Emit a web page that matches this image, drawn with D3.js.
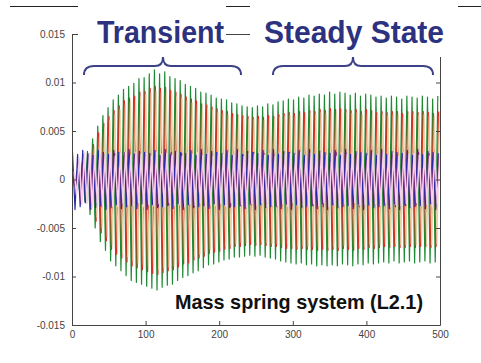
<!DOCTYPE html>
<meta charset="utf-8">
<style>
  body { margin: 0; background: #fff; }
  .tick text { font: 10px "Liberation Sans", Arial, sans-serif; fill: #444; }
  .axis path, .axis line { stroke: #444; }
  .series { fill: none; stroke-width: 1.2; stroke-linejoin: round; }
  .series.pink { stroke-width: 1.5; }
</style>
<body>
<script src="https://d3js.org/d3.v7.min.js"></script>
<script>
// values in units of 1e-3, successive extrema, one every dt time units
var dt = 3.5;

var green = [
  0.3,-0.6,0.9,-1.3,1.8,-2.3,2.9,-3.6,4.2,-5.0,
  5.5,-6.4,6.6,-7.3,7.4,-8.4,8.2,-8.9,8.7,-9.4,
  9.3,-9.9,9.6,-10.4,9.9,-10.6,10.4,-10.8,10.5,-11.0,
  10.9,-11.2,11.3,-11.4,10.9,-11.1,11.1,-10.9,10.6,-10.8,
  10.4,-10.4,10.2,-10.1,9.8,-9.9,9.6,-9.6,9.4,-9.4,
  9.0,-9.1,8.9,-8.8,8.7,-8.7,8.4,-8.5,8.3,-8.3,
  8.2,-8.2,7.9,-8.0,7.8,-8.0,7.6,-7.9,7.5,-7.8,
  7.4,-7.9,7.6,-7.8,7.5,-8.0,7.8,-8.1,7.7,-8.2,
  8.0,-8.4,8.1,-8.5,8.3,-8.6,8.2,-8.7,8.5,-8.6,
  8.4,-8.8,8.7,-8.7,8.6,-8.9,8.8,-8.8,8.7,-8.9,
  9.0,-8.8,8.8,-8.9,9.0,-8.7,8.9,-8.8,8.7,-8.9,
  8.9,-8.7,8.6,-8.8,8.8,-8.6,8.7,-8.7,8.5,-8.6,
  8.6,-8.5,8.4,-8.6,8.6,-8.4,8.5,-8.6,8.3,-8.5,
  8.6,-8.4,8.5,-8.6,8.4,-8.5,8.6,-8.4,8.5,-8.6,
  8.3,-8.5,8.6
];

var red = [
  0.2,-0.5,0.8,-1.1,1.5,-2.0,2.5,-3.1,3.6,-4.3,
  4.8,-5.5,5.8,-6.3,6.5,-7.2,7.1,-7.7,7.6,-8.1,
  8.1,-8.5,8.4,-8.9,8.6,-9.1,9.0,-9.3,9.1,-9.5,
  9.4,-9.7,9.6,-9.8,9.4,-9.6,9.5,-9.4,9.2,-9.3,
  9.0,-9.0,8.8,-8.7,8.5,-8.6,8.3,-8.3,8.1,-8.1,
  7.8,-7.9,7.7,-7.6,7.5,-7.5,7.3,-7.4,7.1,-7.2,
  7.0,-7.1,6.8,-6.9,6.7,-6.9,6.6,-6.8,6.5,-6.7,
  6.4,-6.8,6.5,-6.7,6.4,-6.8,6.6,-6.9,6.5,-6.9,
  6.7,-7.0,6.8,-7.1,6.9,-7.1,6.8,-7.2,7.0,-7.1,
  6.9,-7.2,7.1,-7.2,7.0,-7.3,7.2,-7.2,7.1,-7.3,
  7.3,-7.2,7.2,-7.3,7.3,-7.1,7.2,-7.2,7.1,-7.3,
  7.2,-7.1,7.0,-7.2,7.2,-7.0,7.1,-7.1,6.9,-7.0,
  7.0,-6.9,6.9,-7.0,7.0,-6.9,7.0,-7.0,6.8,-7.0,
  7.0,-6.9,7.0,-7.0,6.9,-6.9,7.0,-6.9,6.9,-7.0,
  6.8,-6.9,7.0
];

var yellow = [
  0.1,-0.4,0.7,-1.0,1.4,-1.8,2.3,-2.8,3.3,-3.9,
  4.4,-5.0,5.4,-5.9,6.1,-6.7,6.7,-7.2,7.2,-7.6,
  7.7,-8.0,8.0,-8.4,8.2,-8.6,8.5,-8.8,8.7,-9.0,
  8.9,-9.2,9.1,-9.3,9.0,-9.1,9.0,-9.0,8.8,-8.9,
  8.6,-8.6,8.4,-8.3,8.1,-8.2,7.9,-7.9,7.7,-7.7,
  7.5,-7.5,7.3,-7.2,7.1,-7.1,6.9,-7.0,6.8,-6.8,
  6.7,-6.7,6.5,-6.6,6.4,-6.5,6.3,-6.5,6.2,-6.4,
  6.2,-6.5,6.2,-6.4,6.1,-6.5,6.3,-6.6,6.2,-6.6,
  6.4,-6.7,6.5,-6.8,6.6,-6.8,6.5,-6.9,6.7,-6.8,
  6.6,-6.9,6.8,-6.9,6.7,-7.0,6.9,-6.9,6.8,-7.0,
  7.0,-6.9,6.9,-7.0,7.0,-6.8,6.9,-6.9,6.8,-7.0,
  6.9,-6.8,6.7,-6.9,6.9,-6.7,6.8,-6.8,6.6,-6.7,
  6.7,-6.6,6.6,-6.7,6.7,-6.6,6.7,-6.7,6.5,-6.7,
  6.7,-6.6,6.7,-6.7,6.6,-6.6,6.7,-6.6,6.6,-6.7,
  6.5,-6.6,6.7
];

var blue = [
  2.9,-3.1,2.6,-2.8,3.0,-2.4,2.7,-3.0,2.5,-2.9,
  3.0,-2.7,2.8,-3.1,2.6,-2.9,3.0,-2.6,2.8,-3.0,
  2.5,-2.8,3.1,-2.7,2.6,-3.0,2.9,-2.5,2.8,-3.1,
  2.7,-2.6,3.0,-2.9,2.5,-2.8,3.1,-2.7,2.6,-3.0,
  2.9,-2.5,2.8,-3.1,2.7,-2.6,3.0,-2.9,2.5,-2.8,
  3.1,-2.7,2.6,-3.0,2.9,-2.5,2.8,-3.1,2.7,-2.6,
  3.0,-2.9,2.5,-2.8,3.1,-2.7,2.6,-3.0,2.9,-2.5,
  2.8,-3.1,2.7,-2.6,3.0,-2.9,2.5,-2.8,3.1,-2.7,
  2.6,-3.0,2.9,-2.5,2.8,-3.1,2.7,-2.6,3.0,-2.9,
  2.5,-2.8,3.1,-2.7,2.6,-3.0,2.9,-2.5,2.8,-3.1,
  2.7,-2.6,3.0,-2.9,2.5,-2.8,3.1,-2.7,2.6,-3.0,
  2.9,-2.5,2.8,-3.1,2.7,-2.6,3.0,-2.9,2.5,-2.8,
  3.1,-2.7,2.6,-3.0,2.9,-2.5,2.8,-3.1,2.7,-2.6,
  3.0,-2.9,2.5,-2.8,3.1,-2.7,2.6,-3.0,2.9,-2.5,
  2.8,-3.1,2.7
];

var purple = [
  0.5,-1.2,1.8,-2.4,2.6,-2.2,1.9,-2.7,2.4,-1.6,
  2.1,-2.8,2.5,-1.5,2.2,-2.6,2.7,-1.8,1.6,-2.5,
  2.8,-2.0,1.5,-2.3,2.7,-2.4,1.7,-1.9,2.6,-2.7,
  2.0,-1.4,2.4,-2.8,2.3,-1.6,1.8,-2.6,2.8,-2.1,
  1.5,-2.2,2.7,-2.5,1.8,-1.7,2.5,-2.8,2.2,-1.5,
  2.0,-2.7,2.6,-1.9,1.6,-2.4,2.8,-2.3,1.7,-1.8,
  2.6,-2.8,2.1,-1.5,2.3,-2.7,2.5,-1.7,1.9,-2.6,
  2.8,-2.0,1.5,-2.2,2.7,-2.5,1.8,-1.6,2.4,-2.8,
  2.3,-1.6,1.8,-2.6,2.8,-2.1,1.5,-2.3,2.7,-2.4,
  1.7,-1.9,2.6,-2.7,2.0,-1.4,2.4,-2.8,2.3,-1.6,
  1.8,-2.6,2.8,-2.1,1.5,-2.2,2.7,-2.5,1.8,-1.7,
  2.5,-2.8,2.2,-1.5,2.0,-2.7,2.6,-1.9,1.6,-2.4,
  2.8,-2.3,1.7,-1.8,2.6,-2.8,2.1,-1.5,2.3,-2.7,
  2.5,-1.7,1.9,-2.6,2.8,-2.0,1.5,-2.2,2.7,-2.5,
  1.8,-1.6,2.4
];

var pink = [
  0.8,-1.6,2.2,-2.6,2.8,-2.5,2.7,-2.9,2.6,-2.4,
  2.7,-2.8,2.5,-2.6,2.8,-2.7,2.4,-2.8,2.7,-2.5,
  2.8,-2.6,2.5,-2.7,2.8,-2.4,2.6,-2.8,2.7,-2.6,
  2.4,-2.7,2.8,-2.5,2.6,-2.8,2.7,-2.4,2.5,-2.7,
  2.8,-2.6,2.4,-2.8,2.7,-2.5,2.6,-2.7,2.8,-2.4,
  2.5,-2.8,2.7,-2.6,2.4,-2.7,2.8,-2.5,2.6,-2.8,
  2.7,-2.4,2.5,-2.7,2.8,-2.6,2.4,-2.8,2.7,-2.5,
  2.6,-2.7,2.8,-2.4,2.5,-2.8,2.7,-2.6,2.4,-2.7,
  2.8,-2.5,2.6,-2.8,2.7,-2.4,2.5,-2.7,2.8,-2.6,
  2.4,-2.8,2.7,-2.5,2.6,-2.7,2.8,-2.4,2.5,-2.8,
  2.7,-2.6,2.4,-2.7,2.8,-2.5,2.6,-2.8,2.7,-2.4,
  2.5,-2.7,2.8,-2.6,2.4,-2.8,2.7,-2.5,2.6,-2.7,
  2.8,-2.4,2.5,-2.8,2.7,-2.6,2.4,-2.7,2.8,-2.5,
  2.6,-2.8,2.7,-2.4,2.5,-2.7,2.8,-2.6,2.4,-2.8,
  2.7,-2.5,2.6
];

var seriesNames = ["green", "red", "yellow", "blue", "purple", "pink"];
var seriesValues = [green, red, yellow, blue, purple, pink];
var seriesStart = [0, 1.2, 2.4, 0.6, 1.8, 2.9];
var seriesColors = ["#1e8a34", "#dc2e1e", "#e8d2a8", "#2a2aa8", "#7e2a7e", "#f7d2ec"];

var xTicks = [0, 100, 200, 300, 400, 500];
var yTicks = [-15, -10, -5, 0, 5, 10, 15];
var yLabels = ["-0.015", "-0.01", "-0.005", "0", "0.005", "0.01", "0.015"];

var width = 481, height = 363;
var x = d3.scaleLinear().domain([0, 500]).range([72, 440]);
var y = d3.scaleLinear().domain([-15, 15]).range([325, 34]);

var svg = d3.select("body").append("svg")
  .attr("width", width)
  .attr("height", height);

// slide frame line
svg.append("line")
  .attr("x1", 10).attr("x2", 481)
  .attr("y1", 6.5).attr("y2", 6.5)
  .attr("stroke", "#222");

svg.append("defs").append("clipPath")
  .attr("id", "clip")
.append("rect")
  .attr("x", x(0)).attr("y", y(15))
  .attr("width", x(500) - x(0))
  .attr("height", y(-15) - y(15));

var line = d3.line()
  .x(d => x(d[0]))
  .y(d => y(d[1]));

svg.append("g")
  .attr("clip-path", "url(#clip)")
.selectAll("path")
.data(seriesValues.map((vals, k) => vals.map((v, i) => [seriesStart[k] + i * dt, v])))
.enter().append("path")
  .attr("class", (d, k) => "series " + seriesNames[k])
  .attr("stroke", (d, k) => seriesColors[k])
  .attr("d", line);

svg.append("g")
  .attr("class", "axis")
  .attr("transform", `translate(${x(0)},0)`)
  .call(d3.axisLeft(y).tickValues(yTicks).tickFormat((d, i) => yLabels[i])
    .tickSizeInner(-4).tickSizeOuter(0).tickPadding(7));

svg.append("g")
  .attr("class", "axis")
  .attr("transform", `translate(0,${y(-15)})`)
  .call(d3.axisBottom(x).tickValues(xTicks).tickFormat(d3.format("d"))
    .tickSizeInner(-4).tickSizeOuter(0).tickPadding(6));

svg.append("g")
  .attr("class", "axis")
  .attr("transform", `translate(${x(500)},0)`)
  .call(d3.axisRight(y).tickValues(yTicks).tickFormat("")
    .tickSizeInner(-4).tickSizeOuter(0));

svg.append("g")
  .attr("class", "axis")
  .attr("transform", `translate(0,${y(15)})`)
  .call(d3.axisTop(x).tickValues(xTicks).tickFormat("")
    .tickSizeInner(-4).tickSizeOuter(0));

// annotation boxes
var notes = [
  {label: "Transient", box: [78, 0, 148, 57], tx: 97, tw: 127, brace: [84, 163, 241]},
  {label: "Steady State", box: [250, 0, 208, 57], tx: 264, tw: 180, brace: [273, 353, 433]}
];

var ann = svg.append("g").selectAll("g").data(notes).enter().append("g");

ann.append("rect")
  .attr("x", d => d.box[0]).attr("y", d => d.box[1])
  .attr("width", d => d.box[2]).attr("height", d => d.box[3])
  .attr("fill", "#fff");

ann.append("text")
  .attr("x", d => d.tx).attr("y", 43)
  .attr("textLength", d => d.tw)
  .attr("lengthAdjust", "spacingAndGlyphs")
  .style("font", "bold 31px 'Liberation Sans', Arial, sans-serif")
  .attr("fill", "#2d3280")
  .text(d => d.label);

ann.append("path")
  .attr("fill", "none")
  .attr("stroke", "#3d4288")
  .attr("stroke-width", 2)
  .attr("d", d => {
    var a = d.brace[0], c = d.brace[1], b = d.brace[2];
    return `M${a},75 Q${a},66 ${a + 10},66 L${c - 8},66 Q${c},66 ${c},57 ` +
      `Q${c},66 ${c + 8},66 L${b - 10},66 Q${b},66 ${b},75`;
  });

svg.append("text")
  .attr("x", 175).attr("y", 309)
  .attr("textLength", 248)
  .attr("lengthAdjust", "spacingAndGlyphs")
  .style("font", "bold 21px 'Liberation Sans', Arial, sans-serif")
  .attr("fill", "#111")
  .text("Mass spring system (L2.1)");
</script>
</body>
